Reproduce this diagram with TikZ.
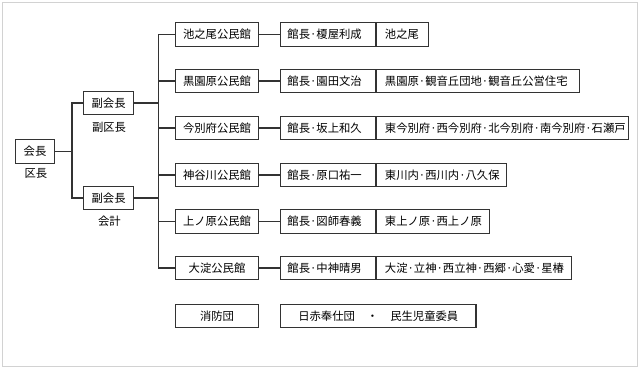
\documentclass[tikz,border=0pt]{standalone}
\usepackage{fontspec}
\usepackage{tikz}
\usetikzlibrary{positioning,calc}
\newfontfamily\jpfam{Noto Sans CJK JP}
\newcommand{\jpfont}{\jpfam\fontsize{8.5pt}{10pt}\selectfont}
\tikzset{
  every picture/.style={line width=0.8pt},
  frame/.style={draw=black!80, inner sep=0pt, minimum height=17.6pt, font=\jpfont},
  hallbox/.style={frame, minimum width=62.2pt},
  headbox/.style={frame, anchor=west, inner xsep=5.5pt, text width=60.3pt, align=left},
  areabox/.style={frame, anchor=west, inner xsep=6.5pt, text width=#1, align=left},
  caption/.style={font=\jpfont, inner sep=0pt},
  link/.style={draw=black!80}
}
\begin{document}
\begin{tikzpicture}[x=0.75pt,y=-0.75pt]
  \useasboundingbox (0,0) rectangle (640,369);
  \draw[gray!35, line width=0.75pt] (2,2) rectangle (637,366);

  % 会長と副会長
  \node[frame, minimum width=29.1pt] (kaicho) at (35,151.5) {会長};
  \node[caption] (kucho) at (36,173) {区長};
  \node[frame, minimum width=37.4pt] (fuku1) at (108.6,103) {副会長};
  \node[caption] (fukuku) at (109,127) {副区長};
  \node[frame, minimum width=37.4pt] (fuku2) at (108.6,198) {副会長};
  \node[caption] (kaikei) at (109.4,221) {会計};

  \coordinate (j1) at (72,151.5);
  \coordinate (trunk) at (158.4,0);
  \draw[link] (kaicho) -- (j1);
  \draw[link] (fuku1.west) -| (j1) |- (fuku2.west);

  % 公民館
  \node[hallbox] (hall1) at (217,34.5) {池之尾公民館};
  \node[hallbox] (hall2) at (217,81) {黒園原公民館};
  \node[hallbox] (hall3) at (217,128) {今別府公民館};
  \node[hallbox] (hall4) at (217,175) {神谷川公民館};
  \node[hallbox] (hall5) at (217,221.5) {上ノ原公民館};
  \node[hallbox] (hall6) at (217,268) {大淀公民館};

  % 館長
  \node[headbox] (head1) at (279.6,34.5) {館長·榎屋利成};
  \node[headbox] (head2) at (279.6,81) {館長·園田文治};
  \node[headbox] (head3) at (279.6,128) {館長·坂上和久};
  \node[headbox] (head4) at (279.6,175) {館長·原口祐一};
  \node[headbox] (head5) at (279.6,221.5) {館長·図師春義};
  \node[headbox] (head6) at (279.6,268) {館長·中神晴男};

  % 地区
  \node[areabox=26.2pt] (area1) at (head1.east) {池之尾};
  \node[areabox=139.5pt] (area2) at (head2.east) {黒園原·観音丘団地·観音丘公営住宅};
  \node[areabox=175.9pt] (area3) at (head3.east) {東今別府·西今別府·北今別府·南今別府·石瀬戸};
  \node[areabox=84.7pt] (area4) at (head4.east) {東川内·西川内·八久保};
  \node[areabox=72pt] (area5) at (head5.east) {東上ノ原·西上ノ原};
  \node[areabox=133.5pt] (area6) at (head6.east) {大淀·立神·西立神·西郷·心愛·星椿};

  % その他
  \node[hallbox] (fire) at (217,316) {消防団};
  \node[frame, anchor=west, minimum width=146.6pt] (redcross) at (280,316) {日赤奉仕団\hspace{9pt}・\hspace{9pt}民生児童委員};

  % 線
  \draw[link] (fuku1.east) -- (fuku1.east -| trunk);
  \draw[link] (fuku2.east) -- (fuku2.east -| trunk);
  \draw[link] (hall1.west -| trunk) -- (hall6.west -| trunk);
  \draw[link] (hall1.west -| trunk) -- (hall1.west);
  \draw[link] (hall2.west -| trunk) -- (hall2.west);
  \draw[link] (hall3.west -| trunk) -- (hall3.west);
  \draw[link] (hall4.west -| trunk) -- (hall4.west);
  \draw[link] (hall5.west -| trunk) -- (hall5.west);
  \draw[link] (hall6.west -| trunk) -- (hall6.west);
  \draw[link] (hall1) -- (head1);
  \draw[link] (hall2) -- (head2);
  \draw[link] (hall3) -- (head3);
  \draw[link] (hall4) -- (head4);
  \draw[link] (hall5) -- (head5);
  \draw[link] (hall6) -- (head6);
\end{tikzpicture}
\end{document}
